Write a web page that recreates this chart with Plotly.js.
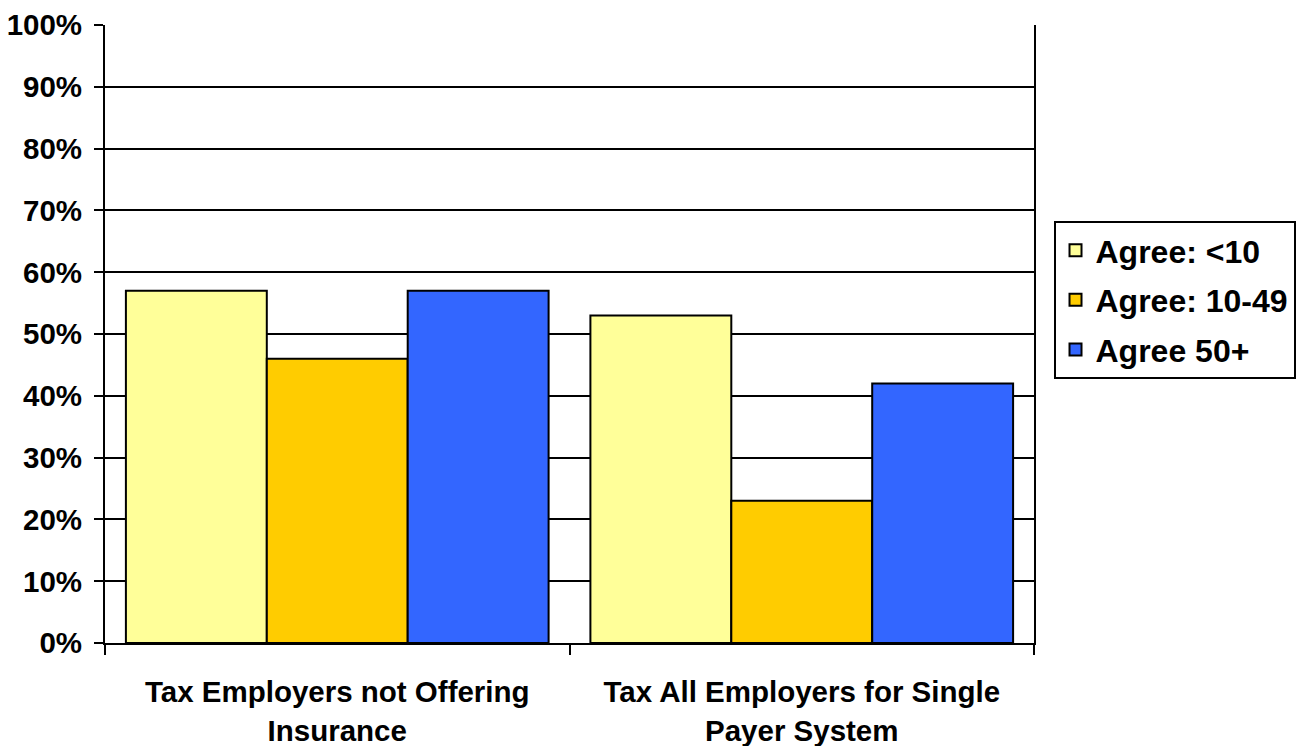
<!DOCTYPE html>
<html>
<head>
<meta charset="utf-8">
<script src="https://cdn.plot.ly/plotly-3.0.1.min.js"></script>
<style>html,body{margin:0;padding:0;background:#fff;}#chart{width:1303px;height:746px;}</style>
</head>
<body>
<div id="chart"></div>
<script>
var categories = ["Tax Employers not Offering<br>Insurance", "Tax All Employers for Single<br>Payer System"];
var seriesNames = ["Agree: <10", "Agree: 10-49", "Agree 50+"];
var agreeUnder10 = [0.57, 0.53];
var agree10to49 = [0.46, 0.23];
var agree50plus = [0.57, 0.42];
var seriesColors = ["#FFFF99", "#FFCC00", "#3366FF"];
var yTickVals = [0, 0.1, 0.2, 0.3, 0.4, 0.5, 0.6, 0.7, 0.8, 0.9, 1.0];
var yTickText = ["0%", "10%", "20%", "30%", "40%", "50%", "60%", "70%", "80%", "90%", "100%"];

var seriesValues = [agreeUnder10, agree10to49, agree50plus];
var font = "Liberation Sans, Arial, sans-serif";
var traces = seriesValues.map(function (vals, i) {
  return {
    type: "bar",
    x: categories,
    y: vals,
    name: seriesNames[i],
    legendgroup: "g" + i,
    marker: { color: seriesColors[i], line: { color: "#000", width: 2 } },
    hoverinfo: "none"
  };
});

var layout = {
  width: 1303,
  height: 746,
  margin: { l: 105, r: 269, t: 25, b: 103, autoexpand: false },
  paper_bgcolor: "#fff",
  plot_bgcolor: "#fff",
  barmode: "group",
  bargap: 0.09,
  bargroupgap: 0,
  showlegend: true,
  legend: {
    x: 1.021, xanchor: "left", y: 0.683, yanchor: "top",
    bordercolor: "#000", borderwidth: 2,
    font: { family: font, size: 32, color: "#000", weight: "bold" },
    traceorder: "grouped", tracegroupgap: 5
  },
  xaxis: {
    type: "category",
    showline: true, linecolor: "#000", linewidth: 2,
    ticks: "outside", tickson: "boundaries", ticklen: 10, tickwidth: 2, tickcolor: "#000",
    ticklabelstandoff: 22,
    tickfont: { family: font, size: 29.5, color: "#000", weight: "bold" },
    showgrid: false, zeroline: false, fixedrange: true
  },
  yaxis: {
    range: [0, 1],
    tickvals: yTickVals, ticktext: yTickText,
    showline: true, mirror: true, linecolor: "#000", linewidth: 2,
    ticks: "outside", ticklen: 9, tickwidth: 2, tickcolor: "#000",
    ticklabelstandoff: 6,
    showgrid: true, gridcolor: "#000", gridwidth: 2,
    zeroline: false,
    tickfont: { family: font, size: 29.5, color: "#000", weight: "bold" },
    fixedrange: true
  }
};

Plotly.newPlot("chart", traces, layout, { displayModeBar: false, staticPlot: true });
</script>
</body>
</html>
